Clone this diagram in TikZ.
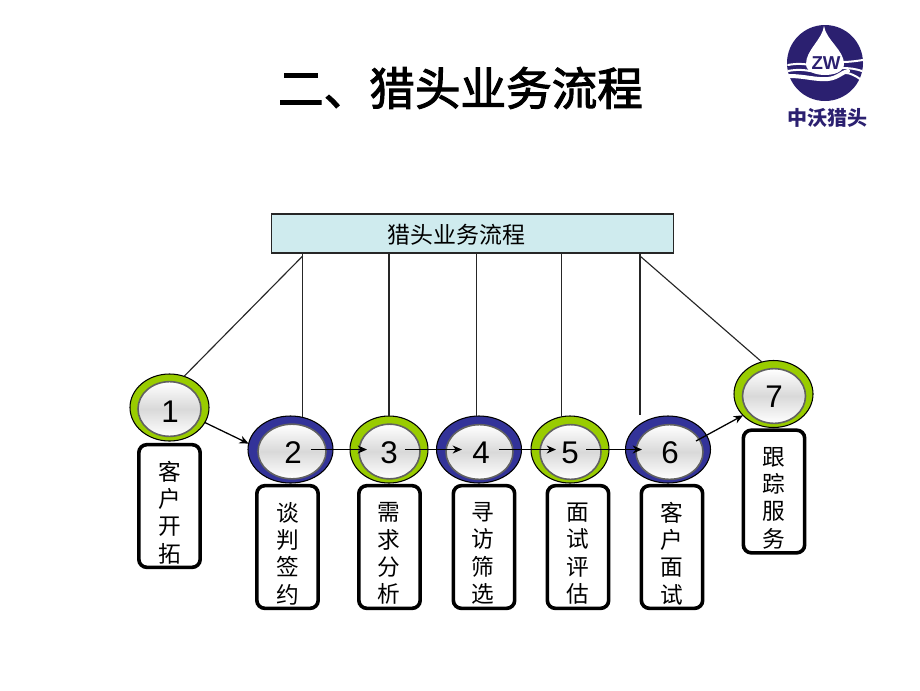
\documentclass[tikz,border=0pt]{standalone}
\usepackage{fontspec}
\newfontfamily\cjk{Noto Sans CJK SC}
\newfontfamily\cjktitle[FakeBold=2.2]{Noto Sans CJK SC}
\setmainfont{Liberation Sans}
\usetikzlibrary{shapes.geometric,arrows.meta}
\definecolor{ringgreen}{HTML}{99CC00}
\definecolor{ringblue}{HTML}{333399}
\definecolor{barfill}{HTML}{CFEBEE}
\definecolor{logonavy}{HTML}{2B2070}
\tikzset{
  ring/.style={ellipse,draw=black,line width=.8pt,inner sep=0pt,outer sep=0pt},
  ringg/.style={ring,fill=ringgreen,minimum height=50.25pt},
  ringb/.style={ring,fill=ringblue,minimum width=63.75pt,minimum height=50.25pt},
  hub/.style={ellipse,draw=black!62,line width=1.2pt,inner sep=0pt,outer sep=0pt,
    top color=white,bottom color=white,middle color=black!15,minimum height=41pt},
  num/.style={font=\fontsize{23.5}{27}\selectfont,inner sep=0pt},
  lbl/.style={draw=black,line width=2.7pt,rounded corners=6pt,fill=white,
    minimum width=46pt,minimum height=92pt,inner sep=0pt},
  vtext/.style={font=\cjk\fontsize{17}{20.5}\selectfont,align=center,inner sep=0pt},
  tie/.style={draw=black!85,line width=.85pt},
  flow/.style={draw=black,line width=.95pt,-{Stealth[length=7pt,width=6pt]}},
  wave/.style={draw=white,line cap=round}
}
\begin{document}
\begin{tikzpicture}[x=.75pt,y=-.75pt]
\useasboundingbox (0,0) rectangle (920,690);
% title
\node[font=\cjktitle\fontsize{34.2}{40}\selectfont,inner sep=0pt] (title) at (460.5,88) {二、猎头业务流程};
% logo
\fill[logonavy] (825,63) circle (38);
\fill[white] (824,26) .. controls (822,40) and (806,50) .. (806,64) .. controls (806,72) and (816,75) .. (825,75) .. controls (834,75) and (844,72) .. (844,64) .. controls (844,50) and (826,40) .. (824,26) -- cycle;
\draw[wave,line width=1.5pt] (788,65) .. controls (798,63) and (806,64) .. (815,66);
\draw[wave,line width=1.5pt] (788,71) .. controls (798,69) and (806,70) .. (815,72);
\draw[wave,line width=3pt] (789,76) .. controls (805,76) and (815,80) .. (828,79) .. controls (838,78) and (842,72) .. (848,71);
\draw[wave,line width=1.5pt] (842,62) .. controls (850,62) and (856,61) .. (863,60);
\draw[wave,line width=1.5pt] (842,68) .. controls (850,68) and (856,69) .. (862,71);
\draw[wave,line width=1.5pt] (846,73) .. controls (850,73) and (856,76) .. (860,79);
\node[font=\bfseries\fontsize{14}{16}\selectfont,text=logonavy,inner sep=0pt] (zw) at (826,63) {ZW};
\node[font=\cjk\bfseries\fontsize{15}{18}\selectfont,text=logonavy,inner sep=0pt] (logotext) at (827,117.5) {中沃猎头};
% top bar
\node[draw=black!85,line width=.9pt,fill=barfill,minimum width=302pt,minimum height=29.25pt,inner sep=0pt,outer sep=0pt] (bar) at (472.5,233.5) {};
\node[font=\cjk\fontsize{17.2}{20}\selectfont,inner sep=0pt] (bartext) at (456.5,235) {猎头业务流程};
% rings
\node[ringg,minimum width=59.25pt] (e1) at (169.5,407.5) {};
\node[ringb] (e2) at (290.5,449.5) {};
\node[ringg,minimum width=58.5pt] (e3) at (389,449.5) {};
\node[ringb] (e4) at (479,449.5) {};
\node[ringg,minimum width=58.5pt] (e5) at (570,449.5) {};
\node[ringb] (e6) at (668,449.5) {};
\node[ringg,minimum width=59.25pt] (e7) at (773.5,394) {};
% hubs
\node[hub,minimum width=47.25pt] (i1) at (169.5,409) {};
\node[hub,minimum width=51pt] (i2) at (292,451.5) {};
\node[hub,minimum width=45.75pt] (i3) at (389.5,451.5) {};
\node[hub,minimum width=50.25pt] (i4) at (479.5,452) {};
\node[hub,minimum width=45.75pt] (i5) at (570.5,452) {};
\node[hub,minimum width=50.25pt] (i6) at (669.5,452) {};
\node[hub,minimum width=47.25pt] (i7) at (774,396) {};
% numbers
\node[num] (n1) at (170,412) {1};
\node[num] (n2) at (293,453) {2};
\node[num] (n3) at (389,453) {3};
\node[num] (n4) at (481,453) {4};
\node[num] (n5) at (570,453) {5};
\node[num] (n6) at (670,453) {6};
\node[num] (n7) at (774,397) {7};
% label boxes
\node[lbl] (b1) at (169.5,506) {};
\node[lbl] (b2) at (287.5,547) {};
\node[lbl] (b3) at (389.5,547) {};
\node[lbl] (b4) at (484,547) {};
\node[lbl] (b5) at (578,547) {};
\node[lbl] (b6) at (672,547) {};
\node[lbl] (b7) at (774,491.5) {};
\node[vtext] (t1) at (170,512.5) {客\\户\\开\\拓};
\node[vtext] (t2) at (288,553.5) {谈\\判\\签\\约};
\node[vtext] (t3) at (389,553.5) {需\\求\\分\\析};
\node[vtext] (t4) at (483,553.5) {寻\\访\\筛\\选};
\node[vtext] (t5) at (578,553.5) {面\\试\\评\\估};
\node[vtext] (t6) at (672,553.5) {客\\户\\面\\试};
\node[vtext] (t7) at (774,498) {跟\\踪\\服\\务};
% connectors from the bar
\coordinate (j1) at (302.7,256);
\coordinate (j7) at (640,256);
\coordinate (end6) at (640,415);
\draw[tie] (j1) -- (e1.65);
\draw[tie] (bar.south -| e2.70) -- (e2.70);
\draw[tie] (bar.south -| e3.north) -- (e3.north);
\draw[tie] (bar.south -| e4.95) -- (e4.95);
\draw[tie] (bar.south -| e5.104) -- (e5.104);
\draw[tie] (bar.south -| end6) -- (end6);
\draw[tie] (j7) -- (e7.110);
% flow arrows
\draw[flow] (e1.-23) -- (e2.172);
\draw[flow,shorten <=15.2pt,shorten >=16.5pt] (e2.center) -- (e3.center);
\draw[flow,shorten <=12pt,shorten >=12.8pt] (e3.center) -- (e4.center);
\draw[flow,shorten <=15pt,shorten >=10.5pt] (e4.center) -- (e5.center);
\draw[flow,shorten <=12pt,shorten >=19.5pt] (e5.center) -- (e6.center);
\draw[flow] ([shift={(28,-8.5)}]e6.center) -- (e7.215);
\end{tikzpicture}
\end{document}
